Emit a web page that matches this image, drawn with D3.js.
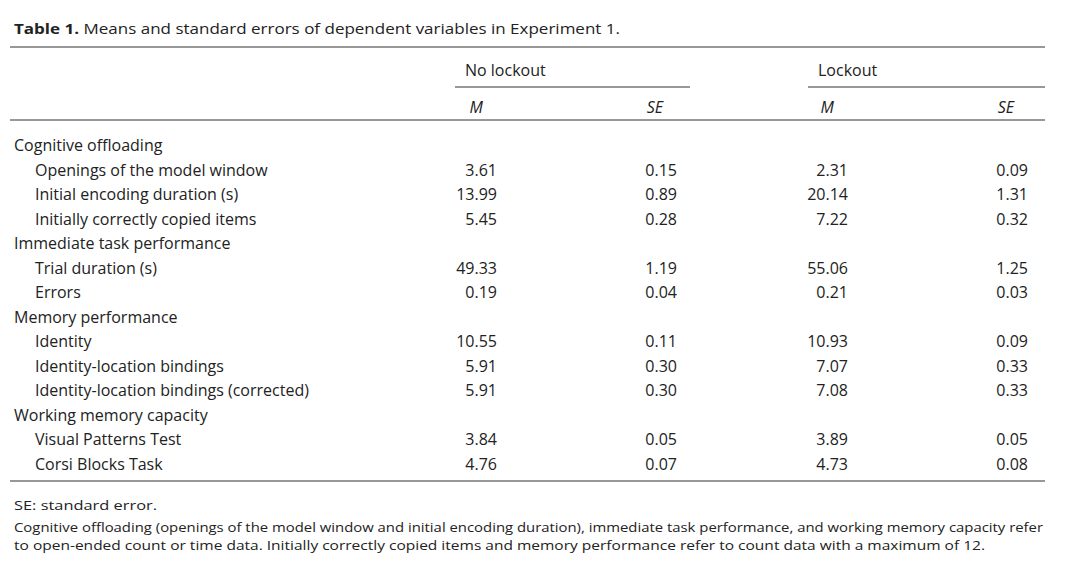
<!DOCTYPE html>
<html><head><meta charset="utf-8">
<script src="https://cdn.jsdelivr.net/npm/d3@7"></script>
<style>body{margin:0;background:#fff}text{font-family:"Open Sans",Lato,sans-serif;fill:#222}</style>
</head><body><svg id="c" width="1080" height="569"></svg>
<script>
const rowLabels=["Cognitive offloading","Openings of the model window","Initial encoding duration (s)","Initially correctly copied items","Immediate task performance","Trial duration (s)","Errors","Memory performance","Identity","Identity-location bindings","Identity-location bindings (corrected)","Working memory capacity","Visual Patterns Test","Corsi Blocks Task"];
const isSection=[1,0,0,0,1,0,0,1,0,0,0,1,0,0];
const noLockoutM=["","3.61","13.99","5.45","","49.33","0.19","","10.55","5.91","5.91","","3.84","4.76"];
const noLockoutSE=["","0.15","0.89","0.28","","1.19","0.04","","0.11","0.30","0.30","","0.05","0.07"];
const lockoutM=["","2.31","20.14","7.22","","55.06","0.21","","10.93","7.07","7.08","","3.89","4.73"];
const lockoutSE=["","0.09","1.31","0.32","","1.25","0.03","","0.09","0.33","0.33","","0.05","0.08"];
const groups=["No lockout","Lockout"];
const subHeads=["M","SE","M","SE"];
const notes=["SE: standard error.","Cognitive offloading (openings of the model window and initial encoding duration), immediate task performance, and working memory capacity refer","to open-ended count or time data. Initially correctly copied items and memory performance refer to count data with a maximum of 12."];

const svg=d3.select("#c");
const y=d3.scalePoint().domain(d3.range(rowLabels.length)).range([145,464]);
const colRight=d3.scaleOrdinal().domain([0,1,2,3]).range([497,677,848,1028]);
const fs=16;
const t=svg.append("text").attr("x",14).attr("y",34).style("font-size","15px").attr("textLength",606).attr("lengthAdjust","spacingAndGlyphs");
t.append("tspan").attr("font-weight","bold").text("Table 1.");
t.append("tspan").text(" Means and standard errors of dependent variables in Experiment 1.");
const line=(x1,x2,yy,w)=>svg.append("line").attr("x1",x1).attr("x2",x2).attr("y1",yy).attr("y2",yy).attr("stroke","#333").attr("stroke-width",w);
line(10,1045,47,1.2);line(10,1045,120,1);line(10,1045,481,1.2);
line(455,690,87,1);line(808,1045,87,1);
svg.selectAll(".g").data(groups).join("text").attr("x",(d,i)=>[465,818][i]).attr("y",76).style("font-size",fs+"px").text(d=>d);
svg.selectAll(".s").data(subHeads).join("text").attr("x",(d,i)=>colRight(i)).attr("y",113).attr("text-anchor","end").attr("dx",-14).style("font-size",fs+"px").style("font-style","italic").text(d=>d);
svg.selectAll(".r").data(rowLabels).join("text").attr("x",(d,i)=>isSection[i]?14:35).attr("y",(d,i)=>y(i)+6).style("font-size",fs+"px").text(d=>d);
[noLockoutM,noLockoutSE,lockoutM,lockoutSE].forEach((arr,c)=>{
  svg.append("g").selectAll("text").data(arr).join("text").attr("x",colRight(c)).attr("y",(d,i)=>y(i)+6).attr("text-anchor","end").style("font-size",fs+"px").text(d=>d);
});
svg.selectAll(".n").data(notes).join("text").attr("x",14).attr("y",(d,i)=>[510,532,550][i]).style("font-size","13.5px")
  .attr("textLength",(d,i)=>[143,1029,971][i]).attr("lengthAdjust","spacingAndGlyphs").text(d=>d);
</script></body></html>
